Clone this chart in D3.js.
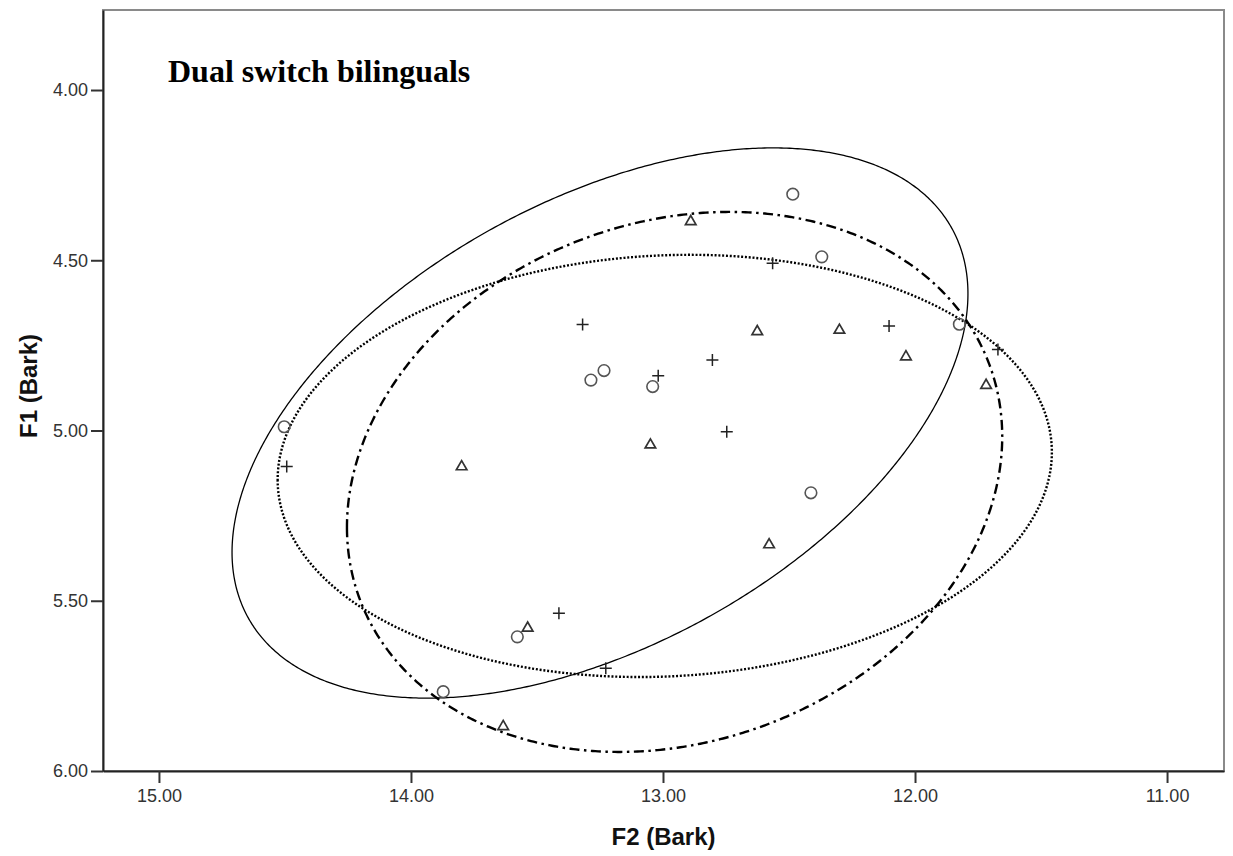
<!DOCTYPE html>
<html>
<head>
<meta charset="utf-8">
<script src="https://cdn.jsdelivr.net/npm/d3@7"></script>
<style>
  html, body { margin: 0; padding: 0; background: #fff; }
  svg { display: block; }
</style>
</head>
<body>
<svg id="chart" width="1233" height="856"></svg>
<script>
// ---------- Data ----------
const title = "Dual switch bilinguals";
const xLabel = "F2 (Bark)";
const yLabel = "F1 (Bark)";
const xTicks = [15, 14, 13, 12, 11];
const yTicks = [4.0, 4.5, 5.0, 5.5, 6.0];

// Circles
const circleF2 = [12.485, 12.370, 11.824, 13.234, 13.286, 13.041, 14.503, 12.413, 13.578, 13.872];
const circleF1 = [4.306, 4.490, 4.688, 4.824, 4.852, 4.871, 4.989, 5.183, 5.606, 5.767];
// Triangles
const triF2 = [12.890, 12.626, 12.300, 12.036, 11.718, 13.050, 13.799, 12.579, 13.537, 13.634];
const triF1 = [4.384, 4.707, 4.703, 4.781, 4.865, 5.040, 5.104, 5.333, 5.578, 5.867];
// Plus signs
const plusF2 = [12.565, 13.319, 12.103, 12.804, 13.019, 11.671, 12.747, 14.493, 13.413, 13.227];
const plusF1 = [4.509, 4.689, 4.693, 4.793, 4.839, 4.762, 5.004, 5.106, 5.537, 5.698];

// Ellipses (data units): centre, half-extents along each axis, correlation
const ellipseStyle = ["solid", "dashdot", "dotted"];
const ellCenterF2 = [13.250, 12.954, 12.993];
const ellCenterF1 = [4.978, 5.151, 5.104];
const ellHalfF2 = [1.460, 1.300, 1.536];
const ellHalfF1 = [0.808, 0.793, 0.620];
const ellCorr = [0.470, 0.168, 0.065];

// ---------- Layout ----------
const svg = d3.select("#chart");
const plot = { left: 103, right: 1224, top: 10, bottom: 771 };

const x = d3.scaleLinear().domain([15.222, 10.774]).range([plot.left, plot.right]);
const y = d3.scaleLinear().domain([3.765, 6.0]).range([plot.top, plot.bottom]);

// frame (top and right borders grey)
svg.append("rect")
  .attr("x", plot.left).attr("y", plot.top)
  .attr("width", plot.right - plot.left).attr("height", plot.bottom - plot.top)
  .attr("fill", "#fff").attr("stroke", "#8a8a8a").attr("stroke-width", 2);

// Ellipses
const styles = {
  solid: { width: 1.3, dash: null },
  dashdot: { width: 2.4, dash: "10,4.5,2.5,4.5" },
  dotted: { width: 2.4, dash: "2,1.8" }
};
const line = d3.line().x(d => x(d[0])).y(d => y(d[1])).curve(d3.curveLinearClosed);
ellipseStyle.forEach((s, i) => {
  const pts = d3.range(0, 720).map(k => {
    const t = k / 720 * 2 * Math.PI;
    const r = ellCorr[i];
    const f2 = ellCenterF2[i] + ellHalfF2[i] * Math.cos(t);
    const f1 = ellCenterF1[i] + ellHalfF1[i] * (r * Math.cos(t) + Math.sqrt(1 - r * r) * Math.sin(t));
    return [f2, f1];
  });
  svg.append("path")
    .attr("d", line(pts))
    .attr("fill", "none")
    .attr("stroke", "#000")
    .attr("stroke-width", styles[s].width)
    .attr("stroke-dasharray", styles[s].dash);
});

// Markers
const gm = svg.append("g");
circleF2.forEach((v, i) => {
  gm.append("circle")
    .attr("cx", x(v)).attr("cy", y(circleF1[i])).attr("r", 5.8)
    .attr("fill", "none").attr("stroke", "#555").attr("stroke-width", 1.6);
});
const tri = d3.symbol().type(d3.symbolTriangle).size(48);
triF2.forEach((v, i) => {
  gm.append("path")
    .attr("d", tri())
    .attr("transform", `translate(${x(v)},${y(triF1[i]) + 0.8})`)
    .attr("fill", "none").attr("stroke", "#333").attr("stroke-width", 1.7);
});
plusF2.forEach((v, i) => {
  const cx = x(v), cy = y(plusF1[i]);
  gm.append("path")
    .attr("d", `M${cx - 6},${cy}H${cx + 6}M${cx},${cy - 6}V${cy + 6}`)
    .attr("fill", "none").attr("stroke", "#222").attr("stroke-width", 1.5);
});

// Axes
const fmt = d3.format(".2f");
const yAxis = svg.append("g")
  .attr("transform", `translate(${plot.left},0)`)
  .call(d3.axisLeft(y).tickValues(yTicks).tickFormat(fmt).tickSize(12).tickPadding(3).tickSizeOuter(0));
const xAxis = svg.append("g")
  .attr("transform", `translate(0,${plot.bottom})`)
  .call(d3.axisBottom(x).tickValues(xTicks).tickFormat(fmt).tickSize(12).tickPadding(6).tickSizeOuter(0));
[xAxis, yAxis].forEach(a => {
  a.select(".domain").attr("stroke", "#222").attr("stroke-width", 2);
  a.selectAll(".tick line").attr("stroke", "#333").attr("stroke-width", 2);
  a.selectAll(".tick text")
    .attr("fill", "#333")
    .style("font-family", "'Liberation Sans', Arial, sans-serif")
    .style("font-size", "18px");
});

// Axis titles
svg.append("text")
  .attr("x", (plot.left + plot.right) / 2).attr("y", 845)
  .attr("text-anchor", "middle")
  .style("font-family", "'Liberation Sans', Arial, sans-serif")
  .style("font-size", "24px").style("font-weight", "bold")
  .attr("fill", "#111")
  .text(xLabel);
svg.append("text")
  .attr("transform", "translate(37,386) rotate(-90)")
  .attr("text-anchor", "middle")
  .style("font-family", "'Liberation Sans', Arial, sans-serif")
  .style("font-size", "24px").style("font-weight", "bold")
  .attr("fill", "#111")
  .text(yLabel);

// Title
svg.append("text")
  .attr("x", 168).attr("y", 82)
  .style("font-family", "'Liberation Serif', 'Times New Roman', serif")
  .style("font-size", "32px").style("font-weight", "bold")
  .attr("fill", "#000")
  .text(title);
</script>
</body>
</html>
